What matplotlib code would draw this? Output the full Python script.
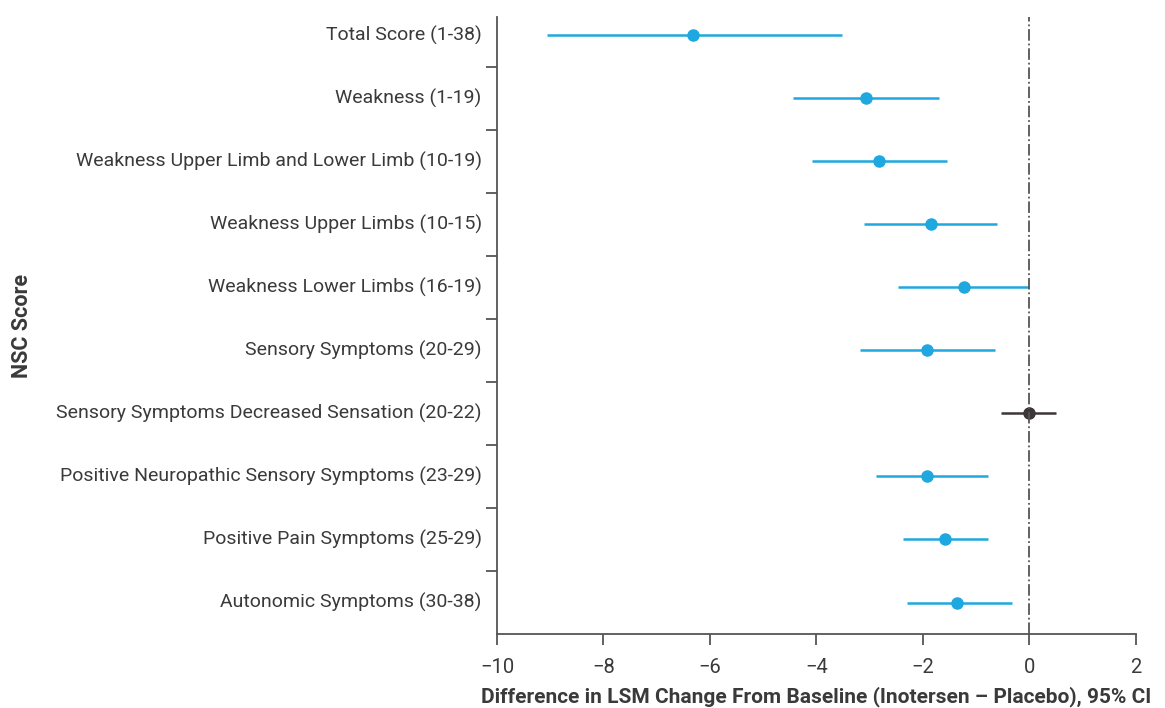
import matplotlib

matplotlib.use("Agg")
import matplotlib.pyplot as plt
import numpy as np

# NSC score components, top to bottom
labels = [
    "Total Score (1-38)",
    "Weakness (1-19)",
    "Weakness Upper Limb and Lower Limb (10-19)",
    "Weakness Upper Limbs (10-15)",
    "Weakness Lower Limbs (16-19)",
    "Sensory Symptoms (20-29)",
    "Sensory Symptoms Decreased Sensation (20-22)",
    "Positive Neuropathic Sensory Symptoms (23-29)",
    "Positive Pain Symptoms (25-29)",
    "Autonomic Symptoms (30-38)",
]
estimate = [-6.32, -3.07, -2.83, -1.85, -1.23, -1.92, -0.01, -1.92, -1.59, -1.37]
ci_low = [-9.06, -4.44, -4.08, -3.11, -2.47, -3.18, -0.54, -2.89, -2.38, -2.30]
ci_high = [-3.52, -1.70, -1.55, -0.61, 0.00, -0.65, 0.50, -0.78, -0.78, -0.33]
significant = [True, True, True, True, True, True, False, True, True, True]

BLUE = "#1fa8e0"
DARK = "#3d3537"
TEXT = "#3a3a3a"
plt.rcParams["font.family"] = ["Roboto", "DejaVu Sans"]

fig = plt.figure(figsize=(11.65, 7.08), dpi=100)
ax = fig.add_axes([0.4266, 0.1045, 0.5485, 0.8715])

y = np.arange(len(labels))
for i in range(len(labels)):
    color = BLUE if significant[i] else DARK
    ax.plot([ci_low[i], ci_high[i]], [y[i], y[i]], color=color, lw=1.8, solid_capstyle="butt")
    ax.plot(estimate[i], y[i], "o", color=color, ms=8)

ax.axvline(0, color="#555555", lw=1.3, ls="-.")

ax.set_xlim(-10, 2)
ax.set_ylim(len(labels) - 0.5, -0.29)
ax.set_xticks(np.arange(-10, 3, 2))
ax.set_xticklabels([f"\u2212{abs(v)}" if v < 0 else str(v) for v in range(-10, 3, 2)])
ax.set_yticks(np.arange(0.5, len(labels) - 0.5, 1))
ax.set_yticklabels([])
ax.tick_params(axis="both", direction="out", length=8, width=1.3, color="#555555",
               labelsize=14.5, labelcolor=TEXT, pad=9)

for i, lab in enumerate(labels):
    ax.text(-0.024, y[i], lab, transform=ax.get_yaxis_transform(), ha="right", va="center",
            fontsize=14, color=TEXT)

for side in ["top", "right"]:
    ax.spines[side].set_visible(False)
for side in ["left", "bottom"]:
    ax.spines[side].set_color("#555555")
    ax.spines[side].set_linewidth(1.3)

ax.set_xlabel("Difference in LSM Change From Baseline (Inotersen \u2013 Placebo), 95% CI",
              fontsize=15, fontweight="bold", color=TEXT, labelpad=7)
fig.text(0.019, 0.54, "NSC Score", rotation=90, ha="center", va="center",
         fontsize=15.5, fontweight="bold", color=TEXT)

fig.savefig("out.png", dpi=100)
